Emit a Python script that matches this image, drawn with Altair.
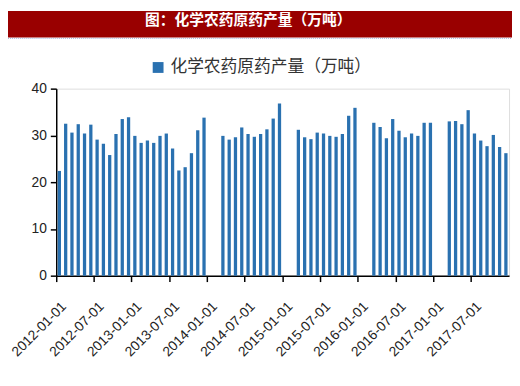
import altair as alt
import pandas as pd

title_text = "图：化学农药原药产量（万吨）"
series_name = "化学农药原药产量（万吨）"
years = [2012, 2013, 2014, 2015, 2016, 2017]
v2012 = [22.4, 32.5, 30.6, 32.4, 30.4, 32.3, 29.1, 28.2, 25.8, 30.3, 33.5, 33.9]
v2013 = [29.9, 28.4, 28.9, 28.4, 29.9, 30.4, 27.2, 22.5, 23.2, 26.2, 31.1, 33.8]
v2014 = [None, None, 29.9, 29.1, 29.6, 31.7, 30.3, 29.7, 30.3, 31.3, 33.6, 36.8]
v2015 = [None, None, 31.2, 29.6, 29.2, 30.6, 30.4, 29.9, 29.7, 30.3, 34.2, 35.9]
v2016 = [None, None, 32.7, 31.8, 29.4, 33.5, 31.0, 29.6, 30.4, 29.9, 32.7, 32.7]
v2017 = [None, None, 33.0, 33.1, 32.4, 35.4, 30.4, 28.9, 27.7, 30.1, 27.5, 26.2]
tick_labels = ["2012-01-01", "2012-07-01", "2013-01-01", "2013-07-01",
               "2014-01-01", "2014-07-01", "2015-01-01", "2015-07-01",
               "2016-01-01", "2016-07-01", "2017-01-01", "2017-07-01"]
y_ticks = [0, 10, 20, 30, 40]

bar_color = "#2a71b0"
font = "Liberation Sans"
cjk = "Noto Sans CJK SC"

months, values = [], []
for y, vals in zip(years, [v2012, v2013, v2014, v2015, v2016, v2017]):
    for m, v in enumerate(vals, start=1):
        months.append(f"{y}-{m:02d}-01")
        values.append(v)

df = pd.DataFrame({"month": months, "value": values, "series": series_name})

bars = alt.Chart(df).mark_bar(width=alt.RelativeBandSize(0.52)).encode(
    x=alt.X("month:N", sort=months,
            scale=alt.Scale(domain=months, paddingInner=0, paddingOuter=0),
            axis=alt.Axis(values=tick_labels, bandPosition=0, labelAngle=-45,
                          labelAlign="right", labelBaseline="top",
                          labelPadding=18, labelOffset=0,
                          labelFont=font, labelFontSize=14, labelColor="#222",
                          tickSize=6, tickColor="#000", domainColor="#000",
                          domainWidth=1.5, tickWidth=1.5, title=None,
                          grid=False, labelOverlap=False)),
    y=alt.Y("value:Q", scale=alt.Scale(domain=[0, 40], nice=False),
            axis=alt.Axis(values=y_ticks, title=None, grid=False,
                          labelFont=font, labelFontSize=14, labelColor="#222",
                          labelPadding=4, tickSize=6, tickColor="#000",
                          domainColor="#000", domainWidth=1.5, tickWidth=1.5)),
    color=alt.Color("series:N", scale=alt.Scale(range=[bar_color]),
                    legend=alt.Legend(title=None, orient="none", legendX=95,
                                      legendY=-30, symbolType="square",
                                      symbolSize=121, symbolStrokeWidth=0,
                                      labelFont=cjk, labelFontSize=17,
                                      labelColor="#333", labelOffset=4,
                                      labelLimit=400, padding=0)),
)

one = pd.DataFrame({"a": [0]})
banner = alt.Chart(one).mark_rect(color="#990000").encode(
    x=alt.value(-49), x2=alt.value(463), y=alt.value(-79), y2=alt.value(-52))
dotted = alt.Chart(one).mark_rule(color="#9fb4dc", strokeDash=[1, 1], strokeWidth=1).encode(
    x=alt.value(-49), x2=alt.value(463), y=alt.value(-51))
banner_text = alt.Chart(one).mark_text(
    color="white", font=cjk, fontSize=15, fontWeight="bold",
    align="center", baseline="middle").encode(
    x=alt.value(195), y=alt.value(-70), text=alt.value(title_text))

chart = alt.layer(banner, dotted, banner_text, bars).properties(
    width=460, height=190,
    autosize=alt.AutoSizeParams(type="none"),
    padding={"left": 49, "top": 79, "right": 3, "bottom": 100},
).configure_view(stroke=None).configure(background="white")

chart.save("out.html", embed_options={"renderer": "svg", "actions": False})
